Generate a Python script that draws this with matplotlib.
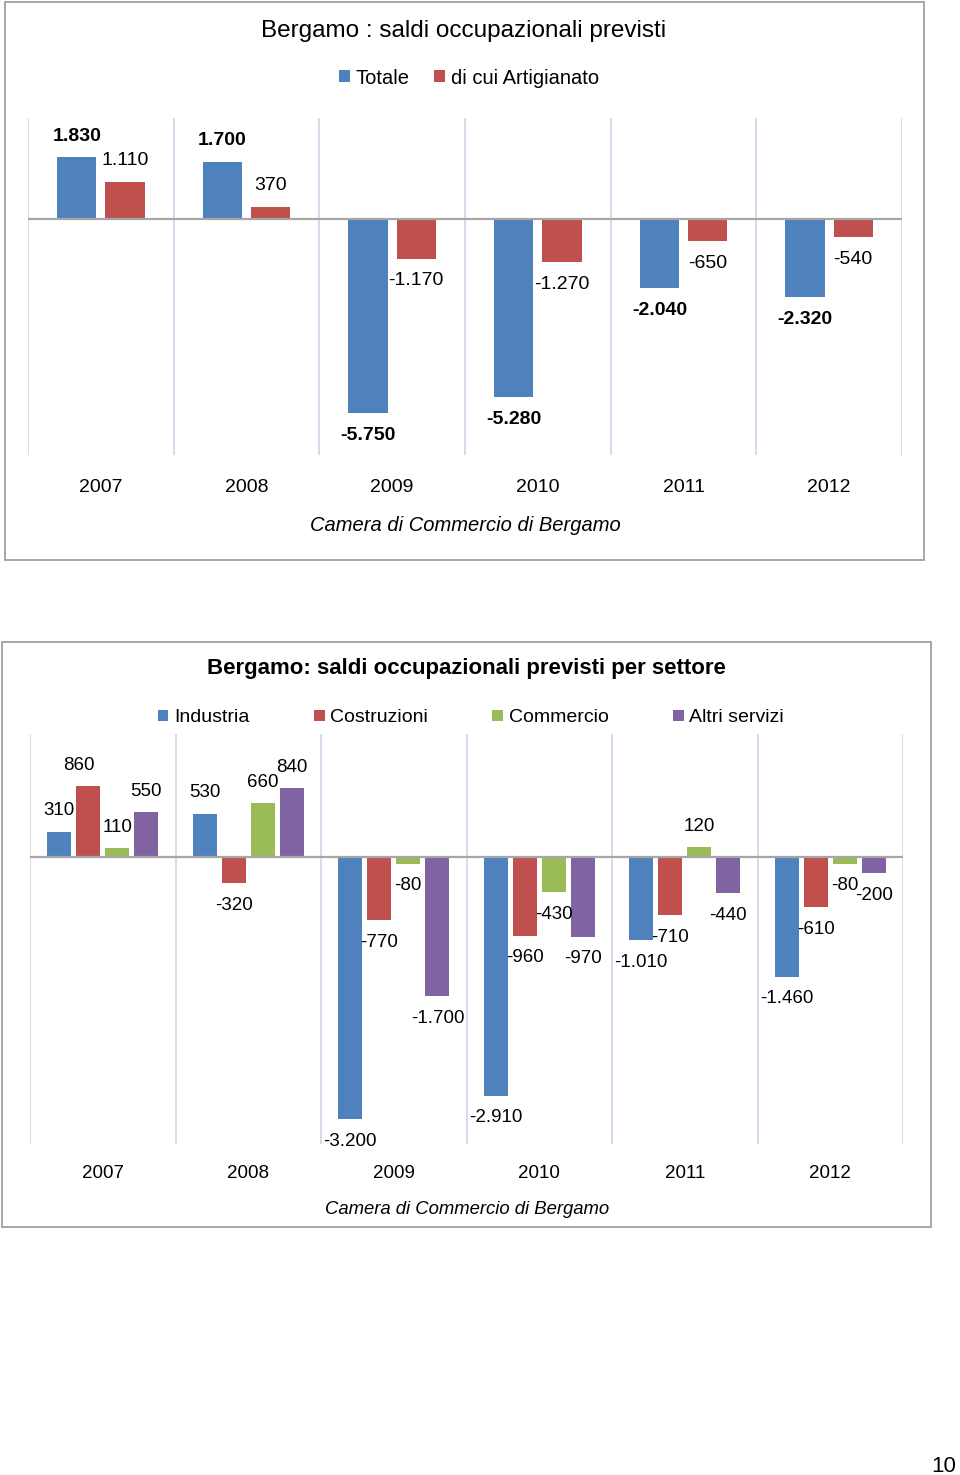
import matplotlib
matplotlib.use("Agg")
import matplotlib.pyplot as plt
from matplotlib.patches import Rectangle
import numpy as np

plt.rcParams['font.family'] = ['Liberation Sans', 'DejaVu Sans']

# --- data ---
years = ["2007", "2008", "2009", "2010", "2011", "2012"]

totale = [1830, 1700, -5750, -5280, -2040, -2320]
artigianato = [1110, 370, -1170, -1270, -650, -540]

industria = [310, 530, -3200, -2910, -1010, -1460]
costruzioni = [860, -320, -770, -960, -710, -610]
commercio = [110, 660, -80, -430, 120, -80]
altri_servizi = [550, 840, -1700, -970, -440, -200]

BLUE = "#4f81bd"
RED = "#c0504d"
GREEN = "#9bbb59"
PURPLE = "#8064a2"
GRID = "#c9d6e8"

W, H = 960, 1475


def fx(x):
    return x / W


def fy(y):
    return 1 - y / H


def fmt(v):
    return f"{v:,}".replace(",", ".")


def style_axes(ax, ylim):
    ax.set_xlim(-0.5, len(years) - 0.5)
    ax.set_ylim(*ylim)
    for s in ax.spines.values():
        s.set_visible(False)
    ax.set_xticks([])
    ax.set_yticks([])
    for b in np.arange(-0.5, len(years), 1.0):
        ax.axvline(b, color=GRID, lw=1.2, zorder=0)
    ax.axhline(0, color="#a6a6a6", lw=1.6, zorder=3)


def label_bars(ax, bars, values, size, bold=False, dx=None):
    for i, (b, v) in enumerate(zip(bars, values)):
        x = b.get_x() + b.get_width() / 2
        off = 15 if v >= 0 else -16
        ox = dx[i] if dx is not None else 0
        ax.annotate(fmt(v), (x, v), xytext=(ox, off), textcoords="offset points",
                    ha="center", va="center", fontsize=size,
                    fontweight="bold" if bold else "normal")


fig = plt.figure(figsize=(9.6, 14.75), dpi=100)

# frames
fig.patches.append(Rectangle((fx(5), fy(560)), fx(919), 558 / H, transform=fig.transFigure,
                             fill=False, edgecolor="#a0a0a0", lw=1.3))
fig.patches.append(Rectangle((fx(2), fy(1227)), fx(929), 585 / H, transform=fig.transFigure,
                             fill=False, edgecolor="#a0a0a0", lw=1.3))

# --- chart 1 ---
x = np.arange(len(years))
ax1 = fig.add_axes([fx(28), fy(455), fx(874), 337 / H])
style_axes(ax1, (-7000, 3000))
b1 = ax1.bar(x - 0.165, totale, 0.27, color=BLUE, zorder=2, label="Totale")
b2 = ax1.bar(x + 0.165, artigianato, 0.27, color=RED, zorder=2, label="di cui Artigianato")
label_bars(ax1, b1, totale, 14, bold=True)
label_bars(ax1, b2, artigianato, 14)

fig.text(fx(464), fy(31), "Bergamo : saldi occupazionali previsti", ha="center", va="center", fontsize=17.5)
fig.legend(handles=[b1, b2], labels=["Totale", "di cui Artigianato"], ncol=2, loc="center",
           bbox_to_anchor=(fx(469), fy(78)), frameon=False, fontsize=14.5,
           handlelength=0.55, handleheight=0.55, handletextpad=0.3, columnspacing=1.2)
for i, yr in enumerate(years):
    fig.text(fx(28 + 145.67 * (i + 0.5)), fy(487), yr, ha="center", va="center", fontsize=14)
fig.text(fx(465), fy(526), "Camera di Commercio di Bergamo", ha="center", va="center",
         fontsize=14.5, style="italic")

# --- chart 2 ---
ax2 = fig.add_axes([fx(30), fy(1144), fx(873), 410 / H])
style_axes(ax2, (-3500, 1500))
series = [(industria, BLUE, "Industria"), (costruzioni, RED, "Costruzioni"),
          (commercio, GREEN, "Commercio"), (altri_servizi, PURPLE, "Altri servizi")]
offsets = [-0.3, -0.1, 0.1, 0.3]
handles = []
for k, ((vals, col, name), o) in enumerate(zip(series, offsets)):
    bars = ax2.bar(x + o, vals, 0.165, color=col, zorder=2, label=name)
    handles.append(bars)
    dx = [-7, 0, 0, 0, 0, 0] if k == 1 else None
    label_bars(ax2, bars, vals, 13.5, dx=dx)

fig.text(fx(466), fy(669), "Bergamo: saldi occupazionali previsti per settore", ha="center",
         va="center", fontsize=16, fontweight="bold")
fig.legend(handles=handles, labels=[s[2] for s in series], ncol=4, loc="center",
           bbox_to_anchor=(fx(471), fy(718)), frameon=False, fontsize=14,
           handlelength=0.55, handleheight=0.55, handletextpad=0.3, columnspacing=3.3)
for i, yr in enumerate(years):
    fig.text(fx(30 + 145.5 * (i + 0.5)), fy(1173), yr, ha="center", va="center", fontsize=13.5)
fig.text(fx(467), fy(1209), "Camera di Commercio di Bergamo", ha="center", va="center",
         fontsize=13.3, style="italic")

fig.text(fx(944), fy(1466), "10", ha="center", va="center", fontsize=16)

fig.savefig("out.png", dpi=100)
